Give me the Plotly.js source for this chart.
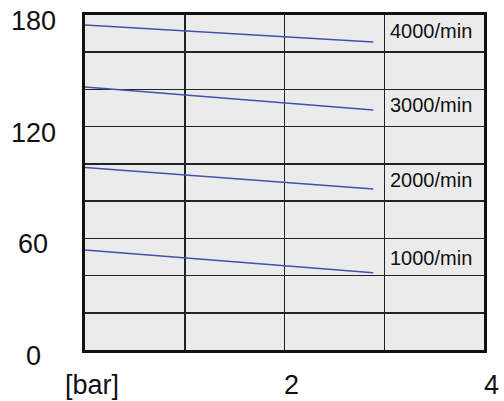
<!DOCTYPE html>
<html><head><meta charset="utf-8">
<script src="https://cdn.plot.ly/plotly-3.0.1.min.js"></script>
<style>html,body{margin:0;padding:0;background:#fff}#c{width:504px;height:401px}</style>
</head><body><div id="c"></div>
<script>
const pressure = [0, 2.89];
const speedLabels = ["1000/min", "2000/min", "3000/min", "4000/min"];
const v1000 = [53.7, 41.5];
const v2000 = [98.0, 86.5];
const v3000 = [141.3, 129.0];
const v4000 = [174.6, 165.5];
const labelY = [49.4, 91.3, 131.6, 171.4];
const labelX = 3.04;
const yTickVals = [0, 60, 120, 180];
const yTickText = ["0", "60", "120", "180"];
const xTickVals = [0, 2, 4];
const xTickText = ["[bar]", "2", "4"];

const series = [v1000, v2000, v3000, v4000];
const traces = series.map((s, i) => ({
  x: pressure, y: s, type: 'scatter', mode: 'lines',
  line: {color: '#4152a8', width: 1.5}, name: speedLabels[i], hoverinfo: 'skip'
}));

const font = {family: 'Liberation Sans, Arial, sans-serif', color: '#111'};
const ann = [];
speedLabels.forEach((t, i) => ann.push({
  x: labelX, y: labelY[i], xref: 'x', yref: 'y', text: t, showarrow: false,
  xanchor: 'left', yanchor: 'middle', font: Object.assign({size: 20}, font)
}));
yTickVals.forEach((v, i) => ann.push({
  x: 0, y: v, xref: 'paper', yref: 'y', text: yTickText[i], showarrow: false,
  xanchor: 'center', yanchor: 'middle', xshift: -52, yshift: -6,
  font: Object.assign({size: 27}, font)
}));
xTickVals.forEach((v, i) => ann.push({
  x: v, y: 0, xref: 'x', yref: 'paper', text: xTickText[i], showarrow: false,
  xanchor: 'center', yanchor: 'middle', xshift: 7, yshift: -35,
  font: Object.assign({size: 27}, font)
}));

const layout = {
  width: 504, height: 401,
  margin: {l: 85, r: 20, t: 15, b: 51},
  paper_bgcolor: '#ffffff', plot_bgcolor: '#ebebeb',
  showlegend: false,
  xaxis: {range: [0, 4], dtick: 1, tick0: 0, showticklabels: false, ticks: '',
          showgrid: true, gridcolor: '#222', gridwidth: 1.5, zeroline: false,
          showline: true, linecolor: '#111', linewidth: 3, mirror: true, fixedrange: true},
  yaxis: {range: [0, 180], dtick: 20, tick0: 0, showticklabels: false, ticks: '',
          showgrid: true, gridcolor: '#222', gridwidth: 1.5, zeroline: false,
          showline: true, linecolor: '#111', linewidth: 3, mirror: true, fixedrange: true},
  annotations: ann
};
Plotly.newPlot('c', traces, layout, {staticPlot: true, displayModeBar: false});
</script></body></html>
